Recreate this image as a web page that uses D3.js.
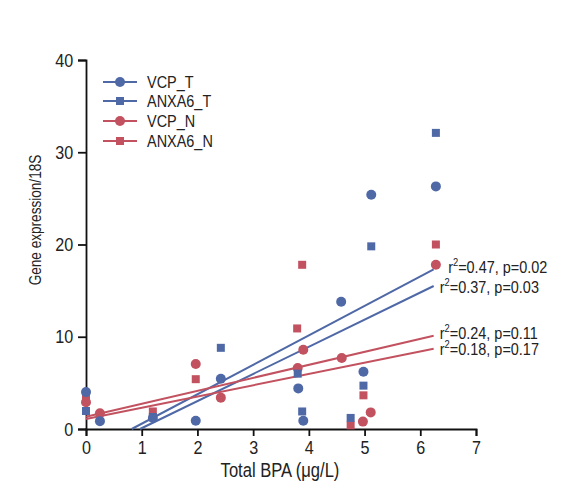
<!DOCTYPE html>
<html><head><meta charset="utf-8">
<script src="https://cdn.jsdelivr.net/npm/d3@7"></script>
<style>
body{margin:0;background:#fff;}
svg text{font-family:"Liberation Sans",Arial,sans-serif;fill:#222;}
</style></head>
<body><svg id="c" width="565" height="494"></svg>
<script>
const xTicks = [0,1,2,3,4,5,6,7];
const yTicks = [0,10,20,30,40];
const seriesNames = ["VCP_T","ANXA6_T","VCP_N","ANXA6_N"];
const vcpT = [[0,4.0],[0.25,0.85],[1.2,1.2],[1.97,0.9],[2.42,5.45],[3.81,4.4],[3.9,0.9],[4.58,13.8],[4.98,6.2],[5.12,25.4],[6.28,26.3]];
const anxa6T = [[0,1.95],[1.2,1.3],[2.42,8.8],[3.8,6.0],[3.88,1.9],[4.75,1.2],[4.98,4.7],[5.12,19.8],[6.28,32.1]];
const vcpN = [[0,2.9],[0.25,1.7],[1.97,7.05],[2.42,3.4],[3.8,6.6],[3.9,8.6],[4.59,7.7],[4.97,0.8],[5.11,1.8],[6.28,17.8]];
const anxa6N = [[0,3.4],[1.2,1.9],[1.97,5.4],[3.79,10.9],[3.88,17.8],[4.75,0.4],[4.98,3.65],[6.28,20.0]];
// fitted regression lines (start and end points) with their statistics
const fitLines = [
  {pts:[[0.82,0],[6.24,17.3]], color:"blue", r2:"0.47", p:"0.02", lx:6.5, ly:16.9},
  {pts:[[0.97,0],[6.24,15.5]], color:"blue", r2:"0.37", p:"0.03", lx:6.35, ly:14.7},
  {pts:[[0,1.33],[6.24,10.1]], color:"red", r2:"0.24", p:"0.11", lx:6.35, ly:9.8},
  {pts:[[0,1.08],[6.24,8.7]], color:"red", r2:"0.18", p:"0.17", lx:6.35, ly:8.0}
];
const colors = {blue:"#4f68a6", red:"#c2525f"};
const SX = 0.85;

const svg = d3.select("#c");
const x = d3.scaleLinear().domain([0,7]).range([86,476]);
const y = d3.scaleLinear().domain([0,40]).range([429,60]);

function ctext(parent, px, py, str, size, anchor, rot){
  const g = parent.append("g").attr("transform",`translate(${px},${py})` + (rot?` rotate(${rot})`:"") + ` scale(${SX},1)`);
  return g.append("text").attr("font-size",size).attr("text-anchor",anchor||"start").text(str);
}

// axes
const xa = svg.append("g").attr("transform","translate(0,429)")
  .call(d3.axisBottom(x).tickValues(xTicks).tickFormat(d3.format("d")).tickSize(7).tickPadding(5));
const ya = svg.append("g").attr("transform","translate(86,0)")
  .call(d3.axisLeft(y).tickValues(yTicks).tickFormat(d3.format("d")).tickSize(8).tickPadding(7));
[xa,ya].forEach(a=>{
  a.select(".domain").attr("stroke","#111").attr("stroke-width",1.8);
  a.selectAll(".tick line").attr("stroke","#111").attr("stroke-width",1.8);
  a.selectAll("text").attr("font-size",19).attr("fill","#222")
   .style("font-family",'"Liberation Sans",Arial,sans-serif')
   .attr("transform",`scale(${SX},1)`);
});

// axis titles
ctext(svg, 280, 477, "Total BPA (μg/L)", 19.5, "middle");
ctext(svg, 41, 220, "Gene expression/18S", 16, "middle", -90);

// fit lines
const line = d3.line().x(d=>x(d[0])).y(d=>y(d[1]));
fitLines.forEach(f=>{
  svg.append("path").attr("d",line(f.pts)).attr("fill","none")
    .attr("stroke",colors[f.color]).attr("stroke-width",2);
  const t = ctext(svg, x(f.lx), y(f.ly), "", 17, "start");
  t.append("tspan").text("r");
  t.append("tspan").attr("dy",-7).attr("font-size",11).text("2");
  t.append("tspan").attr("dy",7).text("=" + f.r2 + ", p=" + f.p);
});

// points
function circles(data,col){
  svg.append("g").selectAll("circle").data(data).join("circle")
    .attr("cx",d=>x(d[0])).attr("cy",d=>y(d[1])).attr("r",5).attr("fill",col);
}
function squares(data,col){
  svg.append("g").selectAll("rect").data(data).join("rect")
    .attr("x",d=>x(d[0])-4).attr("y",d=>y(d[1])-4).attr("width",8).attr("height",8).attr("fill",col);
}
squares(anxa6N,colors.red);
circles(vcpN,colors.red);
squares(anxa6T,colors.blue);
circles(vcpT,colors.blue);

// legend
const legY = [82,101,121,141];
const legCol = [colors.blue,colors.blue,colors.red,colors.red];
const legShape = ["circle","square","circle","square"];
seriesNames.forEach((n,i)=>{
  const g = svg.append("g").attr("transform",`translate(0,${legY[i]})`);
  g.append("line").attr("x1",103).attr("x2",137).attr("y1",0).attr("y2",0)
    .attr("stroke",legCol[i]).attr("stroke-width",2);
  if(legShape[i]==="circle") g.append("circle").attr("cx",120).attr("cy",0).attr("r",5).attr("fill",legCol[i]);
  else g.append("rect").attr("x",116).attr("y",-4).attr("width",8).attr("height",8).attr("fill",legCol[i]);
  ctext(g, 147, 6, n, 17, "start");
});
</script></body></html>
